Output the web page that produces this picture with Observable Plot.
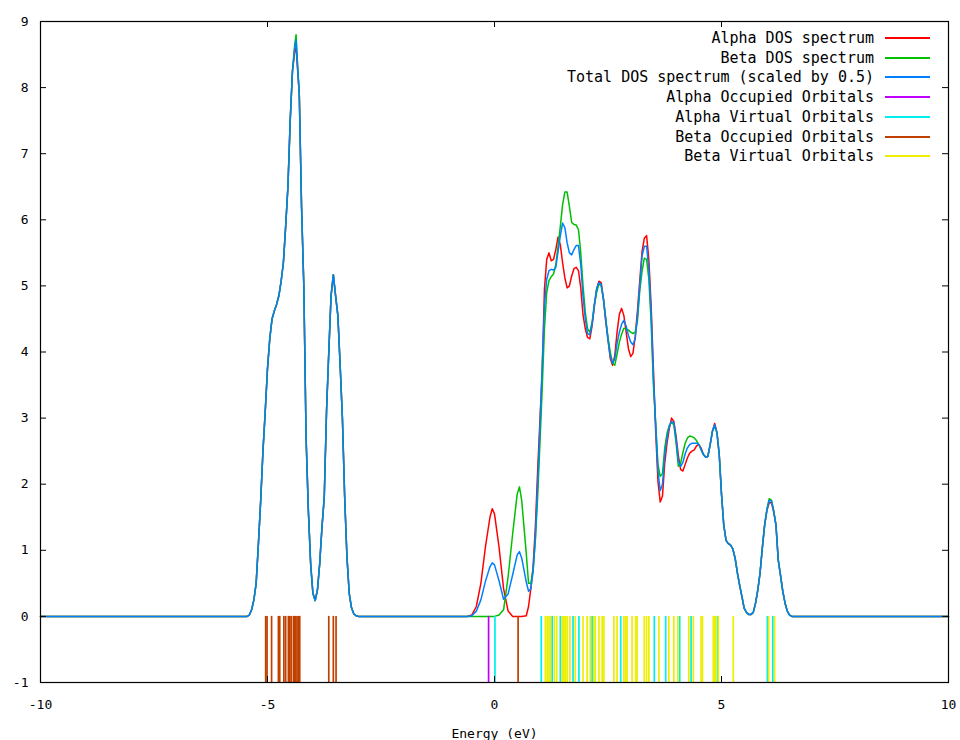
<!DOCTYPE html>
<html>
<head>
<meta charset="utf-8">
<script src="https://cdn.jsdelivr.net/npm/d3@7"></script>
<script src="https://cdn.jsdelivr.net/npm/@observablehq/plot@0.6"></script>
<style>
  html, body { margin: 0; padding: 0; background: #fff; }
  #wrap { position: relative; width: 960px; height: 740px; overflow: hidden; }
  #legend { position: absolute; left: 0; top: 0; width: 960px; font: 15px "DejaVu Sans Mono", monospace; color: #000; }
  .row { position: absolute; right: 30px; height: 18px; display: flex; align-items: center; white-space: pre; }
  .swatch { display: inline-block; width: 45px; height: 2px; margin-left: 11px; }
</style>
</head>
<body>
<div id="wrap"><div id="legend"></div></div>
<script>
// ---- tick labels ----
const xTicks = [-10, -5, 0, 5, 10];
const yTicks = [-1, 0, 1, 2, 3, 4, 5, 6, 7, 8, 9];
const xLabel = "Energy (eV)";

// ---- series names & colours ----
const seriesNames = [
  "Alpha DOS spectrum",
  "Beta DOS spectrum",
  "Total DOS spectrum (scaled by 0.5)",
  "Alpha Occupied Orbitals",
  "Alpha Virtual Orbitals",
  "Beta Occupied Orbitals",
  "Beta Virtual Orbitals"
];
const seriesColors = ["#ff0000", "#00c000", "#0080ff", "#c000ff", "#00eeee", "#c04000", "#eeee00"];

// ---- DOS curves (energy in eV) ----
const energy = [
  -10,
  -5.5, -5.45, -5.4, -5.35, -5.3, -5.25, -5.2, -5.15, -5.1, -5.05,
  -5.0, -4.95, -4.9, -4.85, -4.8, -4.75, -4.7, -4.65, -4.6, -4.55,
  -4.5, -4.45, -4.4, -4.37, -4.35, -4.3, -4.25, -4.2, -4.15, -4.1,
  -4.05, -4.0, -3.95, -3.9, -3.85, -3.8, -3.75, -3.7, -3.65, -3.6,
  -3.55, -3.5, -3.45, -3.4, -3.35, -3.3, -3.25, -3.2, -3.15, -3.1,
  -3.05, -3.0,
  -0.6, -0.5, -0.4, -0.3, -0.2, -0.1, -0.05, 0.0, 0.1, 0.2,
  0.3, 0.4, 0.5, 0.55, 0.6, 0.7,
  0.75, 0.8, 0.85, 0.9, 0.95, 1.0, 1.05, 1.1, 1.15, 1.2,
  1.25, 1.3, 1.35, 1.4, 1.45, 1.5, 1.55, 1.6, 1.65, 1.7,
  1.75, 1.8, 1.85, 1.9, 1.95, 2.0, 2.05, 2.1, 2.15, 2.2,
  2.25, 2.3, 2.35, 2.4, 2.45, 2.5, 2.55, 2.6, 2.65, 2.7,
  2.75, 2.8, 2.85, 2.9, 2.95, 3.0, 3.05, 3.1, 3.15, 3.2,
  3.25, 3.3, 3.35, 3.4, 3.45, 3.5, 3.55, 3.6, 3.65, 3.7,
  3.75, 3.8, 3.85, 3.9, 3.95, 4.0, 4.05, 4.1, 4.15, 4.2,
  4.25, 4.3, 4.35, 4.4, 4.45, 4.5, 4.55, 4.6, 4.65, 4.7,
  4.75, 4.8, 4.85, 4.9, 4.95, 5.0, 5.05, 5.1, 5.15, 5.2,
  5.25, 5.3, 5.35, 5.4, 5.45, 5.5, 5.55, 5.6, 5.65, 5.7,
  5.75, 5.8, 5.85, 5.9, 5.95, 6.0, 6.05, 6.1, 6.15, 6.2,
  6.25, 6.3, 6.35, 6.4, 6.45, 6.5, 6.55,
  10
];
const alphaDOS = [
  0,
  0, 0, 0.02, 0.1, 0.25, 0.5, 1.1, 1.75, 2.5, 3.1,
  3.75, 4.2, 4.5, 4.62, 4.72, 4.85, 5.07, 5.35, 5.9, 6.5,
  7.5, 8.25, 8.55, 8.6, 8.4, 7.9, 6.2, 5.0, 2.7, 1.6,
  0.8, 0.35, 0.24, 0.4, 0.8, 1.35, 1.8, 3.1, 4.0, 4.85,
  5.17, 4.85, 4.55, 3.8, 3.0, 1.8, 0.9, 0.35, 0.13, 0.04,
  0.01, 0,
  0, 0.02, 0.15, 0.5, 1.05, 1.5, 1.63, 1.55, 1.05, 0.42,
  0.08, 0, 0, 0, 0, 0.01,
  0.15, 0.42, 0.75, 1.35, 2.2, 2.95, 3.68, 4.95, 5.4, 5.5,
  5.38, 5.4, 5.55, 5.74, 5.62, 5.35, 5.12, 4.97, 5.0, 5.15,
  5.26, 5.28, 5.23, 4.97, 4.56, 4.35, 4.22, 4.2, 4.4, 4.69,
  4.95, 5.07, 5.05, 4.8, 4.46, 4.2, 3.9, 3.8, 3.95, 4.3,
  4.57, 4.66, 4.55, 4.3, 4.05, 3.93, 3.98, 4.24, 4.63, 5.08,
  5.52, 5.72, 5.76, 5.4, 4.7, 3.75, 2.8, 2.05, 1.73, 1.82,
  2.32, 2.62, 2.84, 3.0, 2.95, 2.72, 2.43, 2.22, 2.2, 2.3,
  2.4, 2.47, 2.5, 2.52, 2.58, 2.6, 2.55, 2.45, 2.41, 2.42,
  2.6, 2.8, 2.92, 2.78, 2.45, 1.85, 1.38, 1.15, 1.1, 1.08,
  1.02, 0.88, 0.66, 0.47, 0.3, 0.12, 0.06, 0.03, 0.03, 0.06,
  0.2, 0.4, 0.66, 1.04, 1.38, 1.6, 1.72, 1.72, 1.58, 1.38,
  0.85, 0.62, 0.38, 0.2, 0.08, 0.02, 0,
  0
];
const betaDOS = [
  0,
  0, 0, 0.02, 0.1, 0.25, 0.5, 1.1, 1.75, 2.5, 3.1,
  3.75, 4.2, 4.5, 4.62, 4.72, 4.85, 5.07, 5.35, 5.9, 6.5,
  7.5, 8.25, 8.65, 8.8, 8.5, 7.9, 6.2, 5.0, 2.7, 1.6,
  0.8, 0.35, 0.24, 0.4, 0.8, 1.35, 1.8, 3.1, 4.0, 4.85,
  5.17, 4.85, 4.55, 3.8, 3.0, 1.8, 0.9, 0.35, 0.13, 0.04,
  0.01, 0,
  0, 0, 0, 0, 0, 0, 0, 0, 0.02, 0.1,
  0.6, 1.25, 1.85, 1.96, 1.75, 0.95,
  0.5, 0.5, 0.7, 1.15, 1.8, 2.6, 3.43, 4.35, 4.9, 5.08,
  5.14, 5.18, 5.32, 5.6, 5.9, 6.23, 6.42, 6.42, 6.2, 5.96,
  5.93, 5.92, 5.85, 5.5, 5.0, 4.6, 4.35, 4.3, 4.45, 4.72,
  4.9, 5.03, 5.0, 4.8, 4.5, 4.22, 4.0, 3.83, 3.8, 3.97,
  4.15, 4.27, 4.36, 4.35, 4.33, 4.3, 4.28, 4.3, 4.48, 4.93,
  5.22, 5.42, 5.4, 5.1, 4.45, 3.5, 2.93, 2.3, 2.12, 2.16,
  2.55, 2.77, 2.89, 2.93, 2.9, 2.62, 2.27, 2.32, 2.48, 2.62,
  2.7, 2.73, 2.72, 2.7, 2.66, 2.6, 2.52, 2.45, 2.41, 2.42,
  2.6, 2.8, 2.88, 2.78, 2.45, 1.85, 1.38, 1.15, 1.1, 1.08,
  1.02, 0.88, 0.66, 0.47, 0.3, 0.12, 0.06, 0.03, 0.03, 0.06,
  0.2, 0.4, 0.66, 1.04, 1.38, 1.62, 1.78, 1.76, 1.6, 1.38,
  0.85, 0.62, 0.38, 0.2, 0.08, 0.02, 0,
  0
];
const totalDOSHalf = [
  0,
  0, 0, 0.02, 0.1, 0.25, 0.5, 1.1, 1.75, 2.5, 3.1,
  3.75, 4.2, 4.5, 4.62, 4.72, 4.85, 5.07, 5.35, 5.9, 6.5,
  7.5, 8.25, 8.6, 8.72, 8.45, 7.9, 6.2, 5.0, 2.7, 1.6,
  0.8, 0.35, 0.24, 0.4, 0.8, 1.35, 1.8, 3.1, 4.0, 4.85,
  5.17, 4.85, 4.55, 3.8, 3.0, 1.8, 0.9, 0.35, 0.13, 0.04,
  0.01, 0,
  0, 0.01, 0.08, 0.25, 0.53, 0.75, 0.81, 0.78, 0.54, 0.26,
  0.34, 0.63, 0.93, 0.98, 0.88, 0.52,
  0.38, 0.42, 0.68, 1.2, 2.0, 2.85, 3.78, 4.7, 5.1, 5.23,
  5.25, 5.24, 5.28, 5.52, 5.76, 5.95, 5.88, 5.65, 5.5, 5.47,
  5.55, 5.61, 5.61, 5.32, 4.85, 4.5, 4.28, 4.26, 4.42, 4.72,
  4.96, 5.05, 5.02, 4.8, 4.5, 4.17, 3.94, 3.83, 3.9, 4.13,
  4.3, 4.42, 4.48, 4.39, 4.25, 4.15, 4.11, 4.2, 4.55, 5.0,
  5.45, 5.6, 5.6, 5.25, 4.58, 3.62, 2.9, 2.2, 1.9, 2.0,
  2.45, 2.7, 2.88, 2.95, 2.93, 2.68, 2.35, 2.27, 2.33, 2.46,
  2.55, 2.6, 2.62, 2.62, 2.62, 2.6, 2.53, 2.45, 2.41, 2.42,
  2.6, 2.8, 2.9, 2.78, 2.45, 1.85, 1.38, 1.15, 1.1, 1.08,
  1.02, 0.88, 0.66, 0.47, 0.3, 0.12, 0.06, 0.03, 0.03, 0.06,
  0.2, 0.4, 0.66, 1.04, 1.38, 1.61, 1.75, 1.75, 1.59, 1.38,
  0.85, 0.62, 0.38, 0.2, 0.08, 0.02, 0,
  0
];

// ---- orbital energies (eV), drawn as sticks from -1 to 0 ----
const stickBottom = -1;
const stickTop = 0;
const alphaOccupied = [-0.13];
const alphaVirtual = [0.01, 1.03, 1.27, 1.45, 1.73, 1.86, 2.15, 2.78, 3.52, 3.77, 4.08, 4.33, 4.91, 6.01, 6.13];
const betaOccupied = [-5.04, -5.01, -4.91, -4.76, -4.73, -4.64, -4.60, -4.54, -4.51, -4.48, -4.43, -4.41, -4.38, -4.35, -4.32, -4.29, -3.65, -3.55, -3.49, 0.52];
const betaVirtual = [1.12, 1.16, 1.20, 1.23, 1.32, 1.37, 1.49, 1.53, 1.56, 1.60, 1.66, 1.78, 1.95, 2.04, 2.11, 2.19, 2.22, 2.30, 2.37, 2.41, 2.63, 2.70, 2.85, 2.89, 2.92, 3.03, 3.11, 3.14, 3.30, 3.35, 3.40, 3.62, 3.84, 3.95, 4.04, 4.28, 4.38, 4.55, 4.58, 4.82, 4.85, 4.87, 4.93, 5.26, 6.04, 6.17];

// ---- build tables ----
const curves = [alphaDOS, betaDOS, totalDOSHalf].map((vals, k) =>
  energy.map((e, i) => ({ e, v: vals[i], s: seriesNames[k] }))
);
const sticks = [alphaOccupied, alphaVirtual, betaOccupied, betaVirtual];

const marginLeft = 40, marginRight = 12, marginTop = 21, marginBottom = 58;
const W = 960, H = 740;
const frameW = W - marginLeft - marginRight, frameH = H - marginTop - marginBottom;
const tickLen = 6;

const marks = [];
curves.forEach((data, k) => {
  marks.push(Plot.line(data, { x: "e", y: "v", stroke: seriesColors[k], strokeWidth: 1.5 }));
});
sticks.forEach((data, k) => {
  marks.push(Plot.ruleX(data, { x: d => d, y1: stickBottom, y2: stickTop, stroke: seriesColors[3 + k], strokeWidth: 1.7 }));
});
// inward ticks on all four sides (gnuplot style)
marks.push(Plot.tickX(xTicks, { x: d => d, insetTop: frameH - tickLen, stroke: "#000" }));
marks.push(Plot.tickX(xTicks, { x: d => d, insetBottom: frameH - tickLen, stroke: "#000" }));
marks.push(Plot.tickY(yTicks, { y: d => d, insetRight: frameW - tickLen, stroke: "#000" }));
marks.push(Plot.tickY(yTicks, { y: d => d, insetLeft: frameW - tickLen, stroke: "#000" }));
marks.push(Plot.frame({ stroke: "#000", strokeWidth: 1.2 }));

const chart = Plot.plot({
  width: W, height: H,
  marginLeft, marginRight, marginTop, marginBottom,
  style: { fontFamily: '"DejaVu Sans Mono", monospace', fontSize: "13px", background: "#fff", color: "#000", overflow: "visible" },
  x: { domain: [-10, 10], ticks: xTicks, tickSize: 0, tickPadding: 17, tickFormat: d => String(d),
       label: xLabel, labelArrow: "none", labelAnchor: "center", labelOffset: 55 },
  y: { domain: [-1, 9], ticks: yTicks, tickSize: 0, tickPadding: 12, tickFormat: d => String(d), label: null },
  marks
});
document.getElementById("wrap").prepend(chart);

// ---- legend (inside top-right of the frame) ----
const legend = document.getElementById("legend");
seriesNames.forEach((name, i) => {
  const row = document.createElement("div");
  row.className = "row";
  row.style.top = (29 + i * 19.7) + "px";
  const t = document.createElement("span");
  t.textContent = name;
  const sw = document.createElement("span");
  sw.className = "swatch";
  sw.style.background = seriesColors[i];
  row.append(t, sw);
  legend.append(row);
});
</script>
</body>
</html>
